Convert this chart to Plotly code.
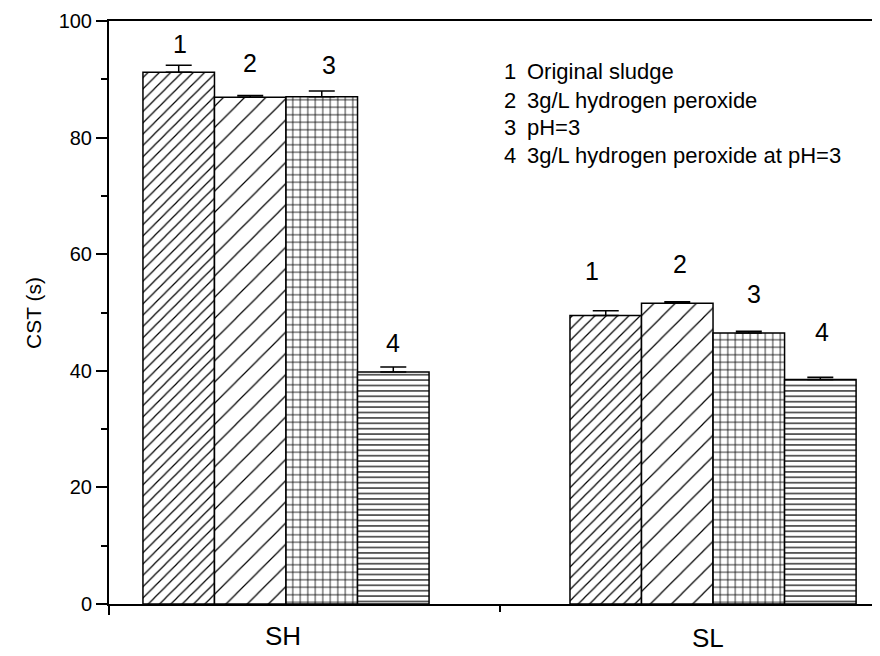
import plotly.graph_objects as go

# ---------------- data ----------------
categories = ["SH", "SL"]
series_ids = ["1", "2", "3", "4"]
series_names = ["Original sludge", "3g/L hydrogen peroxide", "pH=3",
                "3g/L hydrogen peroxide at pH=3"]

original_vals = [91.2, 49.5]
h2o2_vals = [86.9, 51.6]
ph3_vals = [87.0, 46.5]
h2o2_ph3_vals = [39.8, 38.5]

original_err = [1.2, 0.8]
h2o2_err = [0.3, 0.25]
ph3_err = [1.0, 0.3]
h2o2_ph3_err = [0.85, 0.4]

# y positions (data units) of the number labels placed above bars
label_y_SH = [96.0, 92.8, 92.5, 44.8]
label_y_SL = [57.1, 58.3, 53.2, 46.7]

y_ticks = [0, 20, 40, 60, 80, 100]

# ---------------- styles / layout ----------------
FONT = "Liberation Sans, Arial, sans-serif"
patterns = [
    dict(shape="/", size=8, solidity=0.15),
    dict(shape="/", size=15, solidity=0.08),
    dict(shape="+", size=7.5, solidity=0.2),
    dict(shape="-", size=5.4, solidity=0.22),
]
label_xshift_SH = [1, 0, 7, 0]
label_xshift_SL = [-14, 3, 5, 2]

# page is offset by the 8px body margin; plot area on page: x 109..880, y 21..604
PX_L, PX_R, PX_T, PX_B = 109, 880, 21, 604
PW, PH = PX_R - PX_L, PX_B - PX_T


def xp(px):
    return (px - PX_L) / PW


def yp(py):
    return (PX_B - py) / PH


all_vals = [original_vals, h2o2_vals, ph3_vals, h2o2_ph3_vals]
all_errs = [original_err, h2o2_err, ph3_err, h2o2_ph3_err]

fig = go.Figure()
for i in range(4):
    p = patterns[i]
    fig.add_trace(go.Bar(
        x=[0, 1], y=all_vals[i], name=series_names[i],
        marker=dict(
            color="white",
            line=dict(color="black", width=1.5),
            pattern=dict(shape=p["shape"], size=p["size"], solidity=p["solidity"],
                         fgcolor="black", bgcolor="white", fillmode="replace"),
        ),
        error_y=dict(type="data", symmetric=False, array=all_errs[i],
                     arrayminus=[0] * len(all_errs[i]),
                     color="black", thickness=1.5, width=13),
        showlegend=False,
    ))

group_width = 0.67
bar_w = group_width / 4
annotations = []
for i in range(4):
    off = (-1.5 + i) * bar_w
    annotations.append(dict(x=0 + off, y=label_y_SH[i], xref="x", yref="y",
                            text=series_ids[i], showarrow=False, xshift=label_xshift_SH[i],
                            font=dict(family=FONT, size=25, color="black")))
    annotations.append(dict(x=1 + off, y=label_y_SL[i], xref="x", yref="y",
                            text=series_ids[i], showarrow=False, xshift=label_xshift_SL[i],
                            font=dict(family=FONT, size=25, color="black")))

# legend as text block
leg_y_px = [72, 100, 128, 155]
for i in range(4):
    annotations.append(dict(x=xp(502), y=yp(leg_y_px[i]), xref="paper", yref="paper",
                            text=series_ids[i], showarrow=False, xanchor="left", yanchor="middle",
                            font=dict(family=FONT, size=22, color="black")))
    annotations.append(dict(x=xp(525), y=yp(leg_y_px[i]), xref="paper", yref="paper",
                            text=series_names[i], showarrow=False, xanchor="left", yanchor="middle",
                            font=dict(family=FONT, size=22, color="black")))

# category labels (drawn as text below the axis)
cat_y_px = [636, 638]
for j, c in enumerate(categories):
    annotations.append(dict(x=j, y=yp(cat_y_px[j]), xref="x", yref="paper",
                            text=c, showarrow=False, xanchor="center", yanchor="middle",
                            xshift=-3 if j == 0 else -5,
                            font=dict(family=FONT, size=26, color="black")))

# y-axis title
annotations.append(dict(x=xp(33), y=yp(313), xref="paper", yref="paper",
                        text="CST (s)", showarrow=False, textangle=-90,
                        xanchor="center", yanchor="middle",
                        font=dict(family=FONT, size=21, color="black")))

shapes = [
    # y axis continues a little below the x axis
    dict(type="line", xref="paper", yref="paper", x0=0, x1=0,
         y0=0, y1=-11 / PH, line=dict(color="black", width=2)),
]

fig.update_layout(
    width=872, height=648,
    margin=dict(l=PX_L - 8, r=0, t=PX_T - 8, b=648 - (PX_B - 8)),
    paper_bgcolor="white", plot_bgcolor="white",
    barmode="group", bargap=1 - group_width, bargroupgap=0,
    annotations=annotations,
    shapes=shapes,
)
fig.update_xaxes(
    type="linear", range=[-0.4145, 1.391],
    showline=True, linecolor="black", linewidth=2, mirror=True,
    tickmode="array", tickvals=[0.5], ticks="outside", ticklen=6, tickwidth=2,
    tickcolor="black", showticklabels=False, showgrid=False, zeroline=False,
)
fig.update_yaxes(
    range=[0, 100], tickvals=y_ticks,
    showline=True, linecolor="black", linewidth=2,
    ticks="outside", ticklen=11, tickwidth=2, tickcolor="black",
    minor=dict(dtick=10, ticks="outside", ticklen=6, tickwidth=2, tickcolor="black"),
    tickfont=dict(family=FONT, size=20, color="black"),
    showgrid=False, zeroline=False,
)

fig.write_html("out.html")
